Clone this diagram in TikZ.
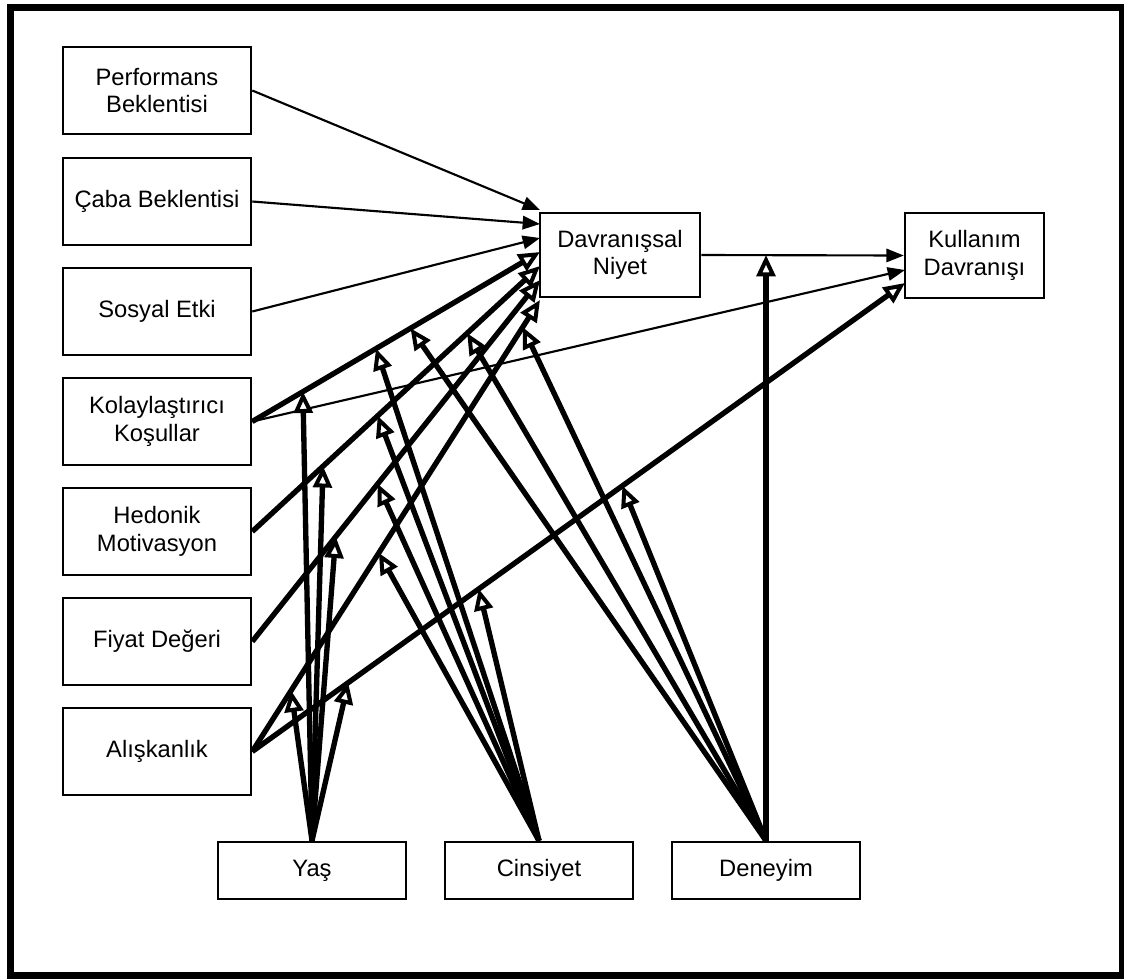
\documentclass[tikz,border=0pt]{standalone}
\usepackage{fontspec}
\setmainfont{Liberation Sans}
\usetikzlibrary{arrows.meta,calc}
\begin{document}
\begin{tikzpicture}[x=0.75pt,y=-0.75pt,
  every node/.style={font=\fontsize{17.8}{20.5}\selectfont},
  box/.style={draw, line width=1.9pt, align=center, inner sep=0pt},
  lbox/.style={box, minimum width=141pt, minimum height=65.25pt},
  dnbox/.style={box, minimum width=120pt, minimum height=63pt},
  kdbox/.style={box, minimum width=104.25pt, minimum height=63.75pt},
  bbox/.style={box, minimum width=141pt, minimum height=42.75pt},
  thinarr/.style={line width=1.6pt, -{Triangle[length=13pt,width=10pt]}},
  thickarr/.style={line width=4pt, -{Triangle[fill=white,length=16pt,width=14pt,line width=3pt]}}
]
\useasboundingbox (0,0) rectangle (1124,979);
\draw[line width=5pt] (10.5,7.5) rectangle (1122,975.5);

% boxes
\node[lbox] (pe) at (157,90.5) {Performans\\Beklentisi};
\node[lbox] (ce) at (157,201.5) {Çaba Beklentisi};
\node[lbox] (se) at (157,311.5) {Sosyal Etki};
\node[lbox] (kk) at (157,421.5) {Kolaylaştırıcı\\Koşullar};
\node[lbox] (hm) at (157,531.5) {Hedonik\\Motivasyon};
\node[lbox] (fd) at (157,641.5) {Fiyat Değeri};
\node[lbox] (al) at (157,751.5) {Alışkanlık};
\node[dnbox] (dn) at (620,255) {Davranışsal\\Niyet};
\node[kdbox] (kd) at (974.5,255.5) {Kullanım\\Davranışı};
\node[bbox] (ya) at (312,870.5) {Yaş};
\node[bbox] (ci) at (539,870.5) {Cinsiyet};
\node[bbox] (de) at (766,870.5) {Deneyim};

% target points on the left side of Davranissal Niyet
\coordinate (tP) at (540,210);
\coordinate (tC) at (540,224);
\coordinate (tS) at (540,238);
\coordinate (tK) at (540,252);
\coordinate (tH) at (540,266);
\coordinate (tF) at (540,280);
\coordinate (tA) at (540,300);
% target points on Kullanim Davranisi
\coordinate (uK) at (905,270);
\coordinate (uA) at (905,283);

% main paths
\draw[thinarr] (pe.east) -- (tP);
\draw[thinarr] (ce.east) -- (tC);
\draw[thinarr] (se.east) -- (tS);
\draw[thickarr] (kk.east) -- (tK);
\draw[thinarr] (kk.east) -- (uK);
\draw[thickarr] (hm.east) -- (tH);
\draw[thickarr] (fd.east) -- (tF);
\draw[thickarr] (al.east) -- (tA);
\draw[thickarr] (al.east) -- (uA);
\draw[thinarr] (dn.east) -- (kd.west);

% moderation points
\coordinate (yK) at ($(kk.east)!0.176!(tK)$);
\coordinate (yH) at ($(hm.east)!0.246!(tH)$);
\coordinate (yF) at ($(fd.east)!0.29!(tF)$);
\coordinate (yA) at ($(al.east)!0.135!(tA)$);
\coordinate (yU) at ($(al.east)!0.147!(uA)$);
\coordinate (cK) at ($(kk.east)!0.43!(tK)$);
\coordinate (cH) at ($(hm.east)!0.436!(tH)$);
\coordinate (cF) at ($(fd.east)!0.436!(tF)$);
\coordinate (cA) at ($(al.east)!0.44!(tA)$);
\coordinate (cU) at ($(al.east)!0.347!(uA)$);
\coordinate (dK) at ($(kk.east)!0.55!(tK)$);
\coordinate (dH) at ($(hm.east)!0.747!(tH)$);
\coordinate (dA) at ($(al.east)!0.94!(tA)$);
\coordinate (dU) at ($(al.east)!0.567!(uA)$);
\coordinate (dB) at (de.north |- dn.east);

% Yas
\draw[thickarr] (ya.north) -- (yK);
\draw[thickarr] (ya.north) -- (yH);
\draw[thickarr] (ya.north) -- (yF);
\draw[thickarr] (ya.north) -- (yA);
\draw[thickarr] (ya.north) -- (yU);
% Cinsiyet
\draw[thickarr] (ci.north) -- (cK);
\draw[thickarr] (ci.north) -- (cH);
\draw[thickarr] (ci.north) -- (cF);
\draw[thickarr] (ci.north) -- (cA);
\draw[thickarr] (ci.north) -- (cU);
% Deneyim
\draw[thickarr] (de.north) -- (dK);
\draw[thickarr] (de.north) -- (dH);
\draw[thickarr] (de.north) -- (dA);
\draw[thickarr] (de.north) -- (dU);
\draw[thickarr] (de.north) -- (dB);
\end{tikzpicture}
\end{document}
